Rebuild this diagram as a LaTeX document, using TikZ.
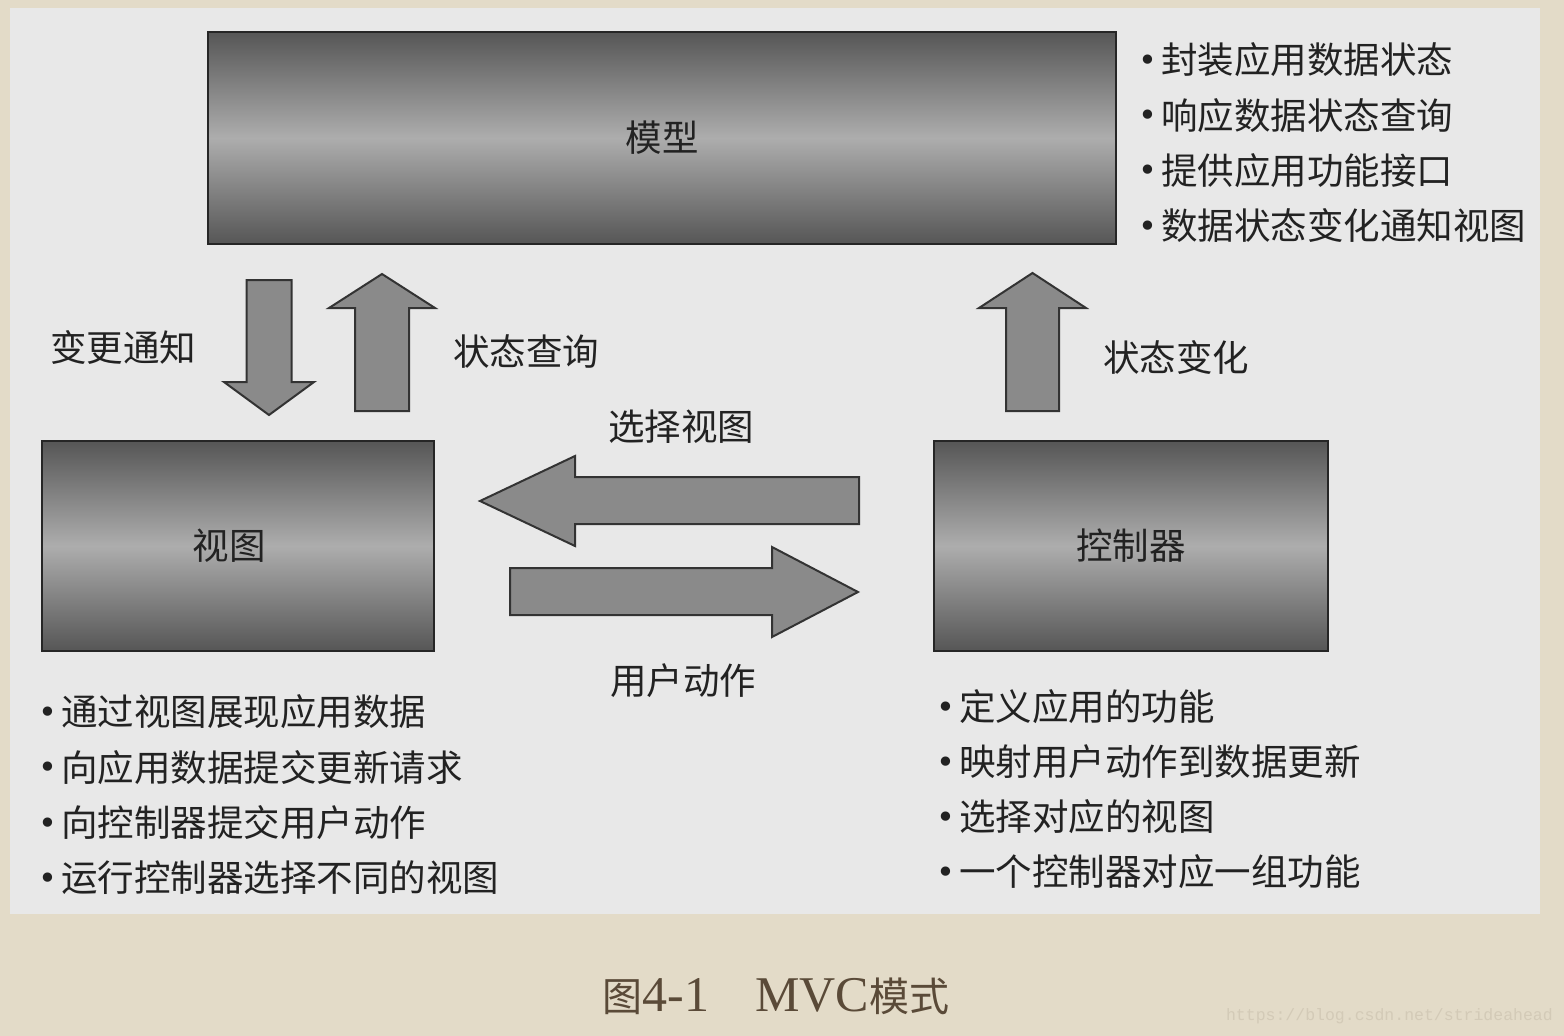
\documentclass[tikz,border=0pt]{standalone}
\usepackage{fontspec}
\setmainfont{Noto Sans CJK SC}
\newfontfamily\capserif{Liberation Serif}
\newfontfamily\markfont{Liberation Mono}
\newfontfamily\dotfont{DejaVu Sans}
\usepackage{xcolor}
\usetikzlibrary{positioning}
\definecolor{mbg}{HTML}{E3DBC8}
\definecolor{mpanel}{HTML}{E8E8E8}
\definecolor{mdark}{HTML}{565656}
\definecolor{mlight}{HTML}{ADADAD}
\definecolor{marrow}{HTML}{8A8A8A}
\definecolor{mtext}{HTML}{222222}
\definecolor{mcap}{HTML}{5A4A38}
\definecolor{mmark}{HTML}{D3CAB7}
\newcommand{\bodyfont}{\fontsize{36.5}{40}\selectfont}
\newcommand{\itm}{\raisebox{2.5pt}{\dotfont\fontsize{32}{34}\selectfont •}\hspace{4pt}}
\tikzstyle{l2}=[line width=2pt]
\tikzstyle{blk}=[rectangle, draw=black!85, l2, top color=mdark, bottom color=mdark, middle color=mlight, font=\bodyfont, text=mtext]
\tikzstyle{barrow}=[draw=black!80, l2, fill=marrow, line join=miter]
\tikzstyle{lbl}=[font=\bodyfont, text=mtext, inner sep=0pt]
\tikzstyle{item}=[lbl, anchor=west]

\begin{document}
\begin{tikzpicture}[x=1pt, y=-1pt, node distance=1pt, on grid]

    \useasboundingbox (0,0) rectangle (1564,1036);
    \fill[mbg] (0,0) rectangle (1564,1036);
    \fill[mpanel] (10,8) rectangle (1540,914);

    \node[blk, minimum width=908pt, minimum height=212pt] (model) at (662,138) {模型};
    \node[blk, minimum width=392pt, minimum height=210pt, below left=408pt and 424pt of model] (view) {};
    \node[blk, minimum width=394pt, minimum height=210pt, right=893pt of view] (ctrl) {控制器};
    \node[lbl] (viewt) [left=9pt of view] {视图};

    \draw[barrow] (246.5,280) -- (291.5,280) -- (291.5,382) -- (314,382) -- (269,415) -- (224,382) -- (246.5,382) -- cycle;
    \draw[barrow] (355,411) -- (409,411) -- (409,308) -- (435,308) -- (382,274) -- (329,308) -- (355,308) -- cycle;
    \draw[barrow] (1006,411) -- (1059,411) -- (1059,308) -- (1086,308) -- (1032.5,273) -- (979,308) -- (1006,308) -- cycle;
    \draw[barrow] (859,477) -- (859,524) -- (575,524) -- (575,546) -- (480,501) -- (575,456) -- (575,477) -- cycle;
    \draw[barrow] (510,568) -- (510,615) -- (772,615) -- (772,637) -- (858,592) -- (772,547) -- (772,568) -- cycle;

    \node[lbl] (chg) at (123,347) {变更通知};
    \node[lbl] (qry) at (526,352) {状态查询};
    \node[lbl] (upd) at (1176,357) {状态变化};
    \node[lbl] (sel) at (681,427) {选择视图};
    \node[lbl] (act) at (683,681) {用户动作};

    \foreach \t [count=\i from 0] in {封装应用数据状态, 响应数据状态查询, 提供应用功能接口, 数据状态变化通知视图}{
            \node[item] (mi\i) at (1138, {60+55.3*\i}) {\itm\t};
        }
    \foreach \t [count=\i from 0] in {通过视图展现应用数据, 向应用数据提交更新请求, 向控制器提交用户动作, 运行控制器选择不同的视图}{
            \node[item] (vi\i) at (38, {712+55.3*\i}) {\itm\t};
        }
    \foreach \t [count=\i from 0] in {定义应用的功能, 映射用户动作到数据更新, 选择对应的视图, 一个控制器对应一组功能}{
            \node[item] (ci\i) at (936, {707+55*\i}) {\itm\t};
        }

    \node[inner sep=0pt, text=mcap] (cap) at (776,996) {{\fontsize{40}{44}\selectfont 图}{\capserif\fontsize{50}{54}\selectfont 4-1\hspace{46pt}MVC}{\fontsize{40}{44}\selectfont 模式}};
    \node[inner sep=0pt, anchor=east, text=mmark, font=\markfont\fontsize{16.5}{18}\selectfont] (wm) at (1553,1016) {https://blog.csdn.net/strideahead};

\end{tikzpicture}
\end{document}
